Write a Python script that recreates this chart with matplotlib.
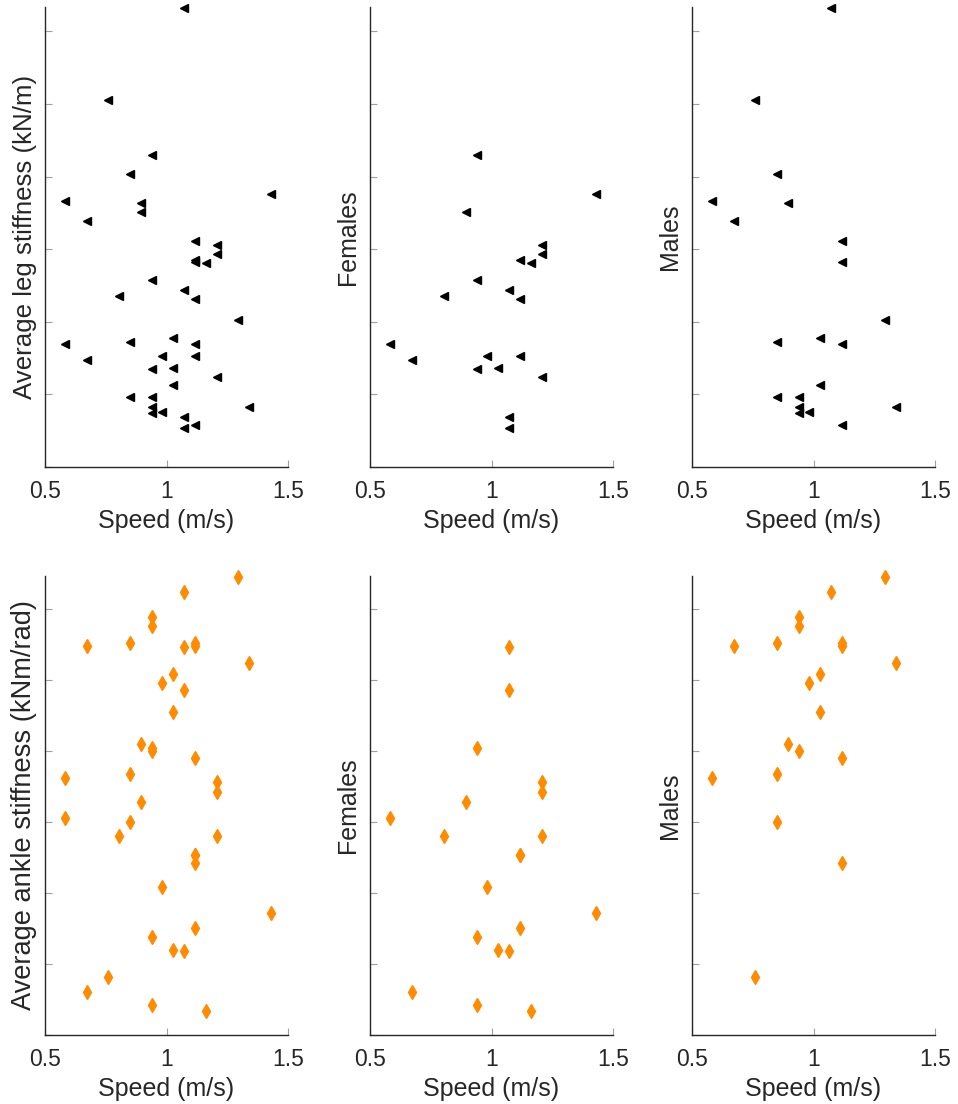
import numpy as np
import matplotlib
matplotlib.use("Agg")
import matplotlib.pyplot as plt

plt.rcParams['font.family'] = ['Liberation Sans', 'DejaVu Sans']

# females: speed (m/s), leg stiffness (kN/m), ankle stiffness (kNm/rad)
f_speed = [0.939, 1.431, 0.894, 1.207, 1.207, 1.118, 1.162, 0.939, 0.805, 1.073,
           1.118, 0.581, 0.671, 0.983, 1.118, 0.939, 1.028, 1.207, 1.073, 1.073]
f_leg = [12.60, 11.53, 11.03, 10.11, 9.88, 9.70, 9.63, 9.14, 8.72, 8.87,
         8.64, 7.39, 6.94, 7.06, 7.06, 6.69, 6.72, 6.49, 5.38, 5.07]
f_ankle = [0.302, 0.186, 0.264, 0.278, 0.271, 0.227, 0.117, 0.169, 0.240, 0.373,
           0.175, 0.253, 0.130, 0.204, 0.227, 0.121, 0.160, 0.240, 0.343, 0.159]

# males
m_speed = [1.073, 0.760, 0.849, 0.581, 0.894, 0.671, 1.118, 1.118, 1.296, 0.849,
           1.028, 1.118, 1.028, 0.849, 0.939, 0.939, 1.341, 0.939, 0.983, 1.118]
m_leg = [16.64, 14.10, 12.06, 11.32, 11.26, 10.78, 10.22, 9.66, 8.05, 7.45,
         7.56, 7.39, 6.25, 5.94, 5.94, 5.66, 5.66, 5.48, 5.51, 5.15]
m_ankle = [0.412, 0.141, 0.376, 0.281, 0.305, 0.374, 0.376, 0.374, 0.422, 0.284,
           0.354, 0.295, 0.327, 0.250, 0.394, 0.388, 0.362, 0.300, 0.348, 0.221]

all_speed = f_speed + m_speed
all_leg = f_leg + m_leg
all_ankle = f_ankle + m_ankle

leg_ticks = [4, 6, 8, 10, 12, 14, 16]
ankle_ticks = [0.1, 0.15, 0.2, 0.25, 0.3, 0.35, 0.4]

orange = '#ff8c00'
txt = '#262626'

fig = plt.figure(figsize=(9.58, 11.04), dpi=100)

lefts = [45 / 958, 370 / 958, 692 / 958]
w = 243 / 958
rows = [(1 - 467 / 1104, 460 / 1104), (1 - 1035 / 1104, 459 / 1104)]

# (x, y, ylabel, ylabel size, ylabel pad)
panels = [
    [(all_speed, all_leg, 'Average leg stiffness (kN/m)', 18.6, -4),
     (f_speed, f_leg, 'Females', 18, -2),
     (m_speed, m_leg, 'Males', 18, -2)],
    [(all_speed, all_ankle, 'Average ankle stiffness (kNm/rad)', 19.6, -4),
     (f_speed, f_ankle, 'Females', 18, -2),
     (m_speed, m_ankle, 'Males', 18, -2)],
]

for r, (bottom, h) in enumerate(rows):
    for c in range(3):
        x, y, lab, lsize, lpad = panels[r][c]
        ax = fig.add_axes([lefts[c], bottom, w, h])
        if r == 0:
            ax.plot(x, y, '<', color='black', markersize=6, clip_on=False)
            ax.set_ylim(leg_ticks[0], max(all_leg) + 0.03)
            ax.set_yticks(leg_ticks)
        else:
            ax.plot(x, y, 'd', color=orange, markersize=7.5, clip_on=False)
            ax.set_ylim(ankle_ticks[0], max(all_ankle) + 0.001)
            ax.set_yticks(ankle_ticks)
        ax.set_yticklabels([])
        ax.set_xlim(0.5, 1.5)
        ax.set_xticks([0.5, 1, 1.5])
        ax.set_xticklabels(['0.5', '1', '1.5'])
        for s in ['top', 'right']:
            ax.spines[s].set_visible(False)
        for s in ['left', 'bottom']:
            ax.spines[s].set_color(txt)
            ax.spines[s].set_linewidth(1.0)
        ax.tick_params(direction='in', length=5, width=0.8, color='#a0a0a0',
                       labelsize=16.5, labelcolor=txt, pad=9.5)
        ax.set_xlabel('Speed (m/s)', fontsize=18, color=txt, labelpad=4)
        ax.set_ylabel(lab, fontsize=lsize, color=txt, labelpad=lpad)

fig.savefig('out.png', dpi=100)
